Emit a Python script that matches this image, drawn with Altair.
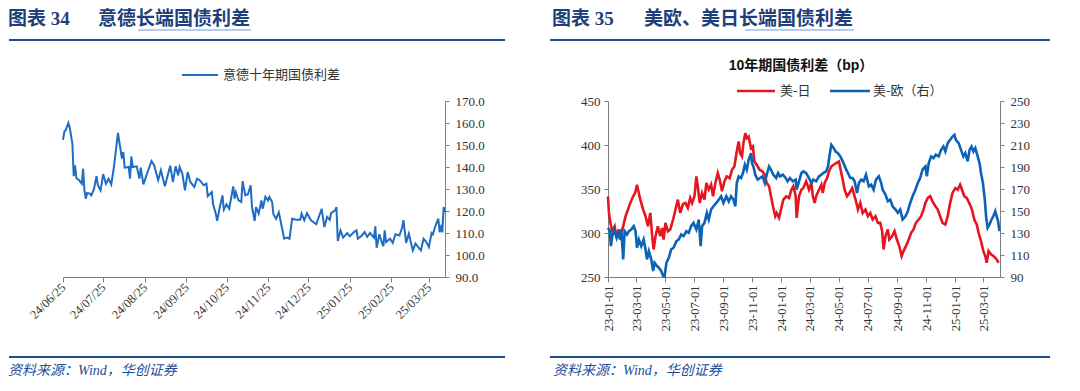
import altair as alt
import pandas as pd

# ---------------- data ----------------
# Italy-Germany 10Y spread, days after 2024-06-25
it_days = [0, 1, 2, 4, 5, 7, 8, 9, 10, 12,
           14, 15, 16, 17, 18, 20, 21, 23, 25, 26,
           28, 30, 32, 34, 36, 38, 41, 43, 44, 45,
           46, 49, 50, 51, 52, 55, 57, 58, 60, 62,
           66, 68, 71, 73, 76, 80, 82, 84, 86, 87,
           89, 91, 93, 95, 98, 100, 102, 105, 107, 108,
           111, 112, 114, 115, 117, 119, 120, 122, 124, 127,
           128, 129, 131, 133, 134, 136, 138, 140, 141, 143,
           144, 146, 148, 149, 151, 153, 154, 156, 157, 159,
           161, 163, 165, 167, 169, 171, 174, 177, 178, 180,
           182, 185, 189, 190, 193, 195, 197, 199, 200, 203,
           204, 205, 207, 209, 212, 214, 217, 219, 220, 223,
           225, 227, 229, 232, 233, 234, 236, 238, 239, 240,
           241, 244, 246, 248, 251, 253, 254, 256, 258, 261,
           263, 265, 267, 269, 271, 273, 275, 276, 278, 280,
           281, 282, 283, 284, 285]
it_spread = [152.4, 156, 156.7, 160, 158, 150.6, 135.8, 140.8, 135, 134,
             132.4, 139.2, 129.4, 125.6, 128.2, 127.9, 127.1, 129.7, 135.8, 131.7,
             129.4, 136.7, 132.4, 134.7, 132.1, 140, 155.5, 147.6, 143.8, 146.8,
             139.7, 140, 134.7, 144.8, 140, 140.3, 134.7, 139.7, 132.1, 135.8,
             142.7, 140.8, 134, 138.5, 131.2, 140.6, 133.2, 140.3, 136.2, 140,
             137, 129.4, 137.7, 133.2, 130.9, 134.7, 134, 131.7, 132.4, 126.7,
             128.6, 123, 118.8, 115.5, 121.8, 127.1, 120.6, 123, 121, 131.2,
             125.6, 128.6, 124.8, 124.1, 133.6, 127.1, 127.6, 131.7, 121.8, 115.5,
             121.8, 118.8, 124.8, 121, 126.4, 124.8, 126.4, 124.1, 118.5, 116.5,
             119.4, 113.5, 107.4, 107.9, 107.4, 116.5, 116, 116, 118.8, 115.8,
             119, 115.8, 114, 115.8, 121, 112.7, 117.3, 116, 119, 120.3,
             121.8, 106.4, 111.2, 107.9, 110, 108.5, 110.4, 111.2, 107.4, 108.9,
             110.4, 108.2, 110, 107.9, 113, 103.3, 109.4, 105.5, 104, 111.2,
             105.9, 107.4, 105.5, 109.4, 108.9, 112.4, 115.8, 105.5, 109.7, 102.1,
             105.2, 103.6, 102.1, 107.4, 105.9, 103.6, 110, 109.4, 113.5, 116.5,
             110.4, 112.7, 110.4, 121.8, 119.4]

# US-Japan 10Y spread (left axis), days after 2023-01-01
us_jp_days = [0, 2, 5, 9, 14, 18, 22, 26, 32, 37,
              42, 47, 53, 57, 61, 64, 68, 74, 79, 84,
              89, 93, 96, 100, 105, 110, 114, 117, 121, 126,
              131, 137, 142, 147, 152, 158, 163, 168, 173, 177,
              182, 186, 189, 193, 198, 203, 207, 212, 217, 221,
              226, 231, 235, 240, 245, 250, 256, 261, 266, 271,
              275, 278, 282, 285, 289, 292, 296, 301, 305, 308,
              313, 319, 325, 330, 334, 339, 343, 348, 352, 355,
              360, 364, 369, 375, 381, 386, 390, 395, 397, 402,
              407, 411, 417, 423, 428, 431, 435, 438, 444, 449,
              452, 456, 461, 465, 470, 475, 480, 486, 491, 494,
              498, 503, 508, 514, 519, 522, 526, 531, 536, 542,
              547, 552, 557, 563, 568, 573, 577, 580, 584, 589,
              592, 598, 603, 608, 613, 618, 622, 627, 633, 638,
              643, 648, 654, 659, 664, 668, 673, 678, 683, 689,
              694, 699, 704, 710, 715, 720, 725, 731, 736, 741,
              745, 750, 755, 761, 766, 771, 776, 780, 785, 790,
              794, 797, 801, 806, 811, 815, 818, 822]
us_jp = [341.7, 322.8, 311.5, 302, 307.7, 294.5, 304, 296.4, 307.7, 319.1,
         326.6, 334.2, 341.7, 345.5, 354.9, 347.4, 337.9, 326.6, 319.1, 307.7,
         322.8, 296.4, 281.3, 296.4, 307.7, 296.4, 305.7, 292.6, 311.5, 302,
         304, 315.3, 326.6, 337.9, 322.8, 333.1, 334.2, 328.5, 339.8, 334.2,
         341.7, 364.3, 353, 334.2, 345.5, 337.9, 356.8, 349.2, 354.9, 341.7,
         356.8, 368.1, 360.6, 347.4, 358.7, 364.3, 362.3, 371.9, 375.7, 392.6,
         404, 390.8, 387, 402.1, 413.4, 407.7, 409.6, 396.4, 398.3, 381.3,
         377.5, 371.9, 370, 366.2, 356.8, 353, 341.7, 328.5, 319.1, 322.8,
         317.2, 326.6, 337.9, 341.7, 339.8, 349.2, 353, 341.7, 317.2, 341.7,
         349.2, 351.1, 358.7, 349.2, 356.8, 341.7, 334.2, 341.7, 349.2, 354.9,
         345.5, 356.8, 362.3, 370, 375.7, 377.5, 379.4, 381.3, 368.1, 360.6,
         349.2, 341.7, 345.5, 351.1, 341.7, 336, 326.6, 334.2, 322.8, 326.6,
         319.1, 322.8, 315.3, 319.1, 311.5, 311.5, 302, 281.3, 296.4, 304,
         292.6, 296.4, 302, 292.6, 285.1, 273.8, 279.4, 285.1, 292.6, 300.2,
         304, 311.5, 315.3, 319.1, 326.6, 334.2, 339.8, 341.7, 336, 330.4,
         326.6, 319.1, 311.5, 309.6, 319.1, 334.2, 345.5, 351.1, 349.2, 354.9,
         349.2, 341.7, 339.8, 333.1, 326.6, 315.3, 309.6, 300.2, 290.8, 279.4,
         273.8, 266.2, 279.4, 275.7, 273.8, 271.9, 270, 266.2]

# US-Europe 10Y spread (right axis), days after 2023-01-01
us_eu_days = [0, 4, 6, 9, 13, 18, 22, 25, 28, 32,
              35, 40, 44, 49, 54, 58, 61, 65, 70, 75,
              79, 82, 86, 91, 95, 98, 103, 107, 112, 116,
              119, 123, 128, 133, 138, 144, 149, 154, 159, 165,
              170, 175, 180, 186, 191, 195, 198, 203, 208, 212,
              217, 222, 228, 233, 238, 243, 249, 254, 259, 264,
              268, 271, 275, 280, 284, 288, 292, 296, 301, 303,
              306, 310, 315, 320, 325, 330, 334, 339, 343, 348,
              354, 358, 362, 368, 374, 378, 383, 389, 395, 397,
              402, 407, 411, 417, 423, 428, 432, 438, 444, 449,
              453, 459, 463, 466, 470, 475, 479, 484, 489, 494,
              500, 505, 510, 515, 519, 524, 528, 533, 538, 543,
              549, 554, 559, 564, 570, 575, 578, 584, 589, 594,
              599, 605, 610, 615, 620, 626, 631, 636, 641, 647,
              652, 657, 662, 668, 671, 675, 680, 685, 690, 696,
              701, 706, 710, 715, 720, 725, 729, 732, 738, 743,
              748, 752, 757, 761, 765, 769, 773, 778, 782, 785,
              789, 793, 796, 799, 803, 807, 811, 815, 818, 821, 824]
us_eu = [134.7, 131.7, 118.1, 127.1, 133.2, 125.6, 131.7, 124.1, 133.2, 106,
         131.7, 128.6, 131.7, 133.2, 136.2, 131.7, 116.6, 124.1, 118.1, 124.1,
         115.1, 106, 113.5, 106, 95.4, 103, 100, 98.5, 95.4, 90.9,
         90.5, 103, 107.5, 115.1, 116.6, 122.6, 124.1, 128.6, 127.1, 131.7,
         130.2, 136.2, 139.2, 133.2, 142.2, 118.1, 136.2, 139.2, 148.3, 142.2,
         151.3, 154.3, 157.3, 160.3, 163.4, 157.3, 163.4, 158.8, 163.4, 160.3,
         154.3, 175.4, 181.5, 180, 184.5, 192, 187.5, 196.6, 202.6, 193.5,
         190.5, 183, 178.5, 180, 181.5, 175.4, 183, 190.5, 187.5, 183,
         180, 184.5, 181.5, 183, 180, 177, 180, 177, 178.5, 169.4,
         177, 184.5, 186, 184.5, 180, 175.4, 178.5, 177, 181.5, 183,
         184.5, 186, 190.5, 199.6, 210.2, 207.2, 204.1, 202.6, 199.6, 195.1,
         189, 184.5, 180, 180, 177, 166.4, 175.4, 178.5, 177, 183,
         172.4, 173.9, 169.4, 178.5, 181.5, 175.4, 169.4, 164.9, 158.8, 160.3,
         154.3, 151.3, 148.3, 151.3, 142.2, 145.2, 149.8, 157.3, 163.4, 169.4,
         175.4, 180, 187.5, 190.5, 181.5, 193.5, 199.6, 198.1, 201.1, 199.6,
         205.6, 208.6, 204.1, 211.7, 214.7, 217.7, 219.2, 214.7, 211.7, 205.6,
         199.6, 202.6, 195.1, 205.6, 208.6, 204.1, 207.2, 199.6, 193.5, 184.5,
         175.4, 160.3, 143.7, 134.7, 137.7, 142.2, 145.2, 149.8, 145.2, 140.7, 131.7]

left_ticks = ["2024-06-25", "2024-07-25", "2024-08-25", "2024-09-25", "2024-10-25",
              "2024-11-25", "2024-12-25", "2025-01-25", "2025-02-25", "2025-03-25"]
left_y_ticks = [90, 100, 110, 120, 130, 140, 150, 160, 170]
right_ticks = ["2023-01-01", "2023-03-01", "2023-05-01", "2023-07-01", "2023-09-01",
               "2023-11-01", "2024-01-01", "2024-03-01", "2024-05-01", "2024-07-01",
               "2024-09-01", "2024-11-01", "2025-01-01", "2025-03-01"]
right_y_left_ticks = [250, 300, 350, 400, 450]
right_y_right_ticks = [90, 110, 130, 150, 170, 190, 210, 230, 250]

# ---------------- styling ----------------
SERIF = "Liberation Serif, Noto Sans CJK SC"
CJK = "Noto Sans CJK SC"
SANS_B = "Liberation Sans, Noto Sans CJK SC"
NAVY = "#1F3F7B"
RULE_C = "#1F4E8C"
LINK_C = "#6C9BE0"
SRC_C = "#1F4E9A"
AX_C = "#7F7F7F"
LAB_C = "#333333"
IT_BLUE = "#1F6CC4"
RED = "#E5161F"
BLUE = "#0B62B6"


def dt(s):
    y, m, d = (int(p) for p in s.split("-"))
    return alt.DateTime(year=y, month=m, date=d)


dummy = pd.DataFrame({"k": [0]})


def txt(x, y, s, size, color, font=CJK, weight="normal", style="normal", align="left"):
    return alt.Chart(dummy).mark_text(
        align=align, baseline="middle", fontSize=size, font=font,
        fontWeight=weight, fontStyle=style, color=color
    ).encode(x=alt.value(x), y=alt.value(y), text=alt.value(s))


def hrule(x1, x2, y, color, width):
    return alt.Chart(dummy).mark_rule(color=color, strokeWidth=width).encode(
        x=alt.value(x1), x2=alt.value(x2), y=alt.value(y))


def frame(x1, x2, y1, y2):
    return alt.Chart(dummy).mark_rect(opacity=0).encode(
        x=alt.value(x1), x2=alt.value(x2), y=alt.value(y1), y2=alt.value(y2))


PH = 176  # plot heights
TY = -82  # header title line
UY = -71  # link underline

# ---------------- left panel ----------------
df_it = pd.DataFrame({
    "date": pd.Timestamp("2024-06-25") + pd.to_timedelta(it_days, unit="D"),
    "spread": it_spread,
})
LW = 382

it_line = alt.Chart(df_it).mark_line(color=IT_BLUE, strokeWidth=2).encode(
    x=alt.X("date:T",
            scale=alt.Scale(domain=[dt("2024-06-25"), dt("2025-04-06")]),
            axis=alt.Axis(values=[dt(s) for s in left_ticks], format="%y/%m/%d",
                          labelAngle=315, labelAlign="right", labelBaseline="middle",
                          title=None, grid=False, tickSize=5, domainColor=AX_C,
                          tickColor=AX_C, labelColor=LAB_C, labelFont=SERIF,
                          labelFontSize=12.5, labelPadding=3, labelOverlap=False)),
    y=alt.Y("spread:Q",
            scale=alt.Scale(domain=[90, 170], nice=False, zero=False),
            axis=alt.Axis(orient="right", values=left_y_ticks, format=".1f",
                          title=None, grid=False, tickSize=4, domainColor=AX_C,
                          tickColor=AX_C, labelColor=LAB_C, labelFont=SERIF,
                          labelFontSize=13, labelPadding=6)),
)

left = alt.layer(
    frame(-55, 442, -93, 276),
    it_line,
    hrule(119, 155, -26, IT_BLUE, 2),
    txt(160, -26, "意德十年期国债利差", 13, LAB_C),
    txt(-55, TY, "图表 34", 19, NAVY, font=SERIF, weight="bold"),
    txt(35, TY, "意德长端国债利差", 19, NAVY, font=SERIF, weight="bold"),
    hrule(75, 188, UY, LINK_C, 1.2),
    hrule(-54, 442, -61, RULE_C, 2),
    hrule(-54, 442, 256, RULE_C, 2),
    txt(-55, 270, "资料来源：Wind，华创证券", 14, SRC_C, font=SERIF, style="italic"),
).properties(width=LW, height=PH)

# ---------------- right panel ----------------
start23 = pd.Timestamp("2023-01-01")
df_jp = pd.DataFrame({"date": start23 + pd.to_timedelta(us_jp_days, unit="D"), "v": us_jp})
df_eu = pd.DataFrame({"date": start23 + pd.to_timedelta(us_eu_days, unit="D"), "v": us_eu})
RW = 392

xr = alt.X("date:T",
           scale=alt.Scale(domain=[dt("2023-01-01"), dt("2025-04-05")]),
           axis=alt.Axis(values=[dt(s) for s in right_ticks], format="%y-%m-%d",
                         labelAngle=270, labelAlign="right", labelBaseline="middle",
                         title=None, grid=False, tickSize=5, domainColor=AX_C,
                         tickColor=AX_C, labelColor=LAB_C, labelFont=SERIF,
                         labelFontSize=12.5, labelPadding=3, labelOverlap=False))

jp_line = alt.Chart(df_jp).mark_line(color=RED, strokeWidth=2.6).encode(
    x=xr,
    y=alt.Y("v:Q", scale=alt.Scale(domain=[250, 450], nice=False, zero=False),
            axis=alt.Axis(orient="left", values=right_y_left_ticks, title=None,
                          grid=False, tickSize=4, domainColor=AX_C, tickColor=AX_C,
                          labelColor=LAB_C, labelFont=SERIF, labelFontSize=13,
                          labelPadding=4)),
)
eu_line = alt.Chart(df_eu).mark_line(color=BLUE, strokeWidth=2.6).encode(
    x=xr,
    y=alt.Y("v:Q", scale=alt.Scale(domain=[90, 250], nice=False, zero=False),
            axis=alt.Axis(orient="right", values=right_y_right_ticks, title=None,
                          grid=False, tickSize=4, domainColor=AX_C, tickColor=AX_C,
                          labelColor=LAB_C, labelFont=SERIF, labelFontSize=13,
                          labelPadding=6)),
)

lines = alt.layer(jp_line, eu_line).resolve_scale(y="independent")

right = alt.layer(
    frame(-56, 442, -93, 276),
    lines,
    txt(193, -35, "10年期国债利差（bp）", 14, "#111111", font=SANS_B, weight="bold", align="center"),
    hrule(129, 167, -10, RED, 2.6),
    txt(172, -10, "美-日", 13, LAB_C),
    hrule(222, 262, -10, BLUE, 2.6),
    txt(265, -10, "美-欧（右）", 13, LAB_C),
    txt(-56, TY, "图表 35", 19, NAVY, font=SERIF, weight="bold"),
    txt(36, TY, "美欧、美日长端国债利差", 19, NAVY, font=SERIF, weight="bold"),
    hrule(137, 246, UY, LINK_C, 1.2),
    hrule(-58, 442, -61, RULE_C, 2),
    hrule(-58, 442, 256, RULE_C, 2),
    txt(-55, 270, "资料来源：Wind，华创证券", 14, SRC_C, font=SERIF, style="italic"),
).properties(width=RW, height=PH)

chart = alt.hconcat(left, right, spacing=163, bounds="flush").properties(
    padding=0, background="white"
).configure_view(strokeWidth=0)

chart.save("out.html", embed_options={"renderer": "svg", "actions": False})
